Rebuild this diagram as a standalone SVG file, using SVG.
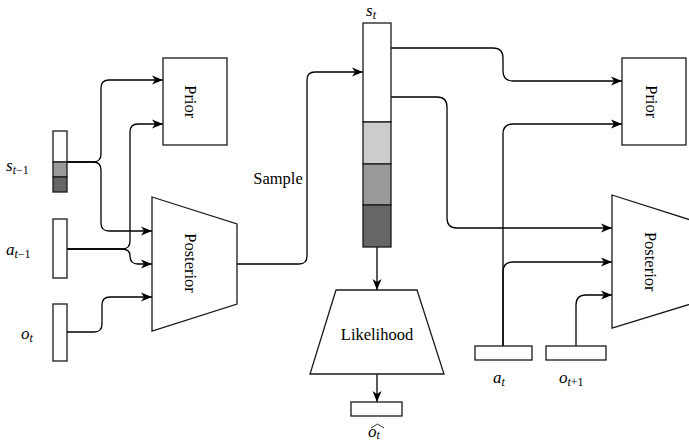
<svg xmlns="http://www.w3.org/2000/svg" width="689" height="441" viewBox="0 0 689 441">
<defs>
<marker id="arr" markerWidth="12" markerHeight="10" refX="11" refY="5" orient="auto" markerUnits="userSpaceOnUse"><path d="M0,0.5 L11,5 L0,9.5 L3,5 Z" fill="#000"/></marker>
<style>
.box{fill:#fff;stroke:#1a1a1a;stroke-width:1.3}
.c1{fill:#ccc;stroke:#1a1a1a;stroke-width:1.3}
.c2{fill:#999;stroke:#1a1a1a;stroke-width:1.3}
.c3{fill:#666;stroke:#1a1a1a;stroke-width:1.3}
.ar{fill:none;stroke:#000;stroke-width:1.3;marker-end:url(#arr)}
.lbl{font-family:"Liberation Serif",serif;font-size:16.5px;fill:#000}
.m{font-family:"Liberation Serif",serif;font-size:17px;font-style:italic;fill:#000}
.sb{font-size:12px}
.up{font-style:normal}
</style>
</defs>
<g id="connectors">
<path class="ar" d="M67,162 H93 Q101,162 101,154 V88 Q101,80 109,80 H163"/>
<path class="ar" d="M67,162 H93 Q101,162 101,170 V223 Q101,231 109,231 H152"/>
<path class="ar" d="M67,249 H122 Q130,249 130,241 V132 Q130,124 138,124 H163"/>
<path class="ar" d="M67,249 H122 Q130,249 130,256 Q130,264 138,264 H152"/>
<path class="ar" d="M67,332 H94 Q102,332 102,324 V305 Q102,297 110,297 H152"/>
<path class="ar" d="M237,264 H299 Q307,264 307,256 V80 Q307,72 315,72 H363"/>
<path class="ar" d="M377,247 V290"/>
<path class="ar" d="M377,374 V402"/>
<path class="ar" d="M391,48 H493 Q503,48 503,58 V71 Q503,81 513,81 H622"/>
<path class="ar" d="M391,97 H437 Q447,97 447,107 V218 Q447,228 457,228 H612"/>
<path class="ar" d="M503,346 V134 Q503,124 513,124 H622"/>
<path class="ar" d="M503,346 V272 Q503,262 513,262 H612"/>
<path class="ar" d="M576,346 V305 Q576,295 586,295 H612"/>
</g>
<g id="s_prev">
<rect class="box" x="53" y="131" width="14" height="31"/>
<rect class="c2" x="53" y="162" width="14" height="15"/>
<rect class="c3" x="53" y="177" width="14" height="15"/>
<text class="m" x="6" y="171">s<tspan class="sb" dy="2.5">t</tspan><tspan class="sb up">−1</tspan></text>
</g>
<g id="a_prev">
<rect class="box" x="53" y="219" width="14" height="59"/>
<text class="m" x="6" y="255">a<tspan class="sb" dy="2.5">t</tspan><tspan class="sb up">−1</tspan></text>
</g>
<g id="o_t">
<rect class="box" x="53" y="304" width="14" height="57"/>
<text class="m" x="21" y="339">o<tspan class="sb" dy="2.5">t</tspan></text>
</g>
<g id="prior_left">
<rect class="box" x="163" y="58" width="64" height="87"/>
<text class="lbl" text-anchor="middle" transform="translate(190,101.7) rotate(90)" x="0" y="5.5">Prior</text>
</g>
<g id="posterior_left">
<polygon class="box" points="152,197 237,224 237,304 152,331"/>
<text class="lbl" text-anchor="middle" transform="translate(190.5,263) rotate(90)" x="0" y="5.5">Posterior</text>
</g>
<g id="sample_label">
<text class="lbl" x="278" y="184" text-anchor="middle">Sample</text>
</g>
<g id="s_t">
<rect class="box" x="363" y="23" width="28" height="99"/>
<rect class="c1" x="363" y="122" width="28" height="42"/>
<rect class="c2" x="363" y="164" width="28" height="41"/>
<rect class="c3" x="363" y="205" width="28" height="42"/>
<text class="m" x="366" y="16">s<tspan class="sb" dy="2.5">t</tspan></text>
</g>
<g id="likelihood">
<polygon class="box" points="336,290 417,290 444,374 310,374"/>
<text class="lbl" x="377" y="340" text-anchor="middle">Likelihood</text>
</g>
<g id="o_hat">
<rect class="box" x="351" y="402" width="51" height="14"/>
<path d="M371,428 L377.5,424 L384,428" fill="none" stroke="#000" stroke-width="0.8"/>
<text class="m" x="368" y="437">o<tspan class="sb" dy="1.5">t</tspan></text>
</g>
<g id="prior_right">
<rect class="box" x="622" y="58" width="64" height="87"/>
<text class="lbl" text-anchor="middle" transform="translate(651,101.7) rotate(90)" x="0" y="5.5">Prior</text>
</g>
<g id="posterior_right">
<polygon class="box" points="612,195 697,222 697,302 612,328"/>
<text class="lbl" text-anchor="middle" transform="translate(650,261.7) rotate(90)" x="0" y="5.5">Posterior</text>
</g>
<g id="a_t">
<rect class="box" x="475" y="346" width="57" height="14"/>
<text class="m" x="493" y="383">a<tspan class="sb" dy="2.5">t</tspan></text>
</g>
<g id="o_next">
<rect class="box" x="546" y="346" width="60" height="14"/>
<text class="m" x="559" y="383">o<tspan class="sb" dy="2.5">t</tspan><tspan class="sb up">+1</tspan></text>
</g>
</svg>
